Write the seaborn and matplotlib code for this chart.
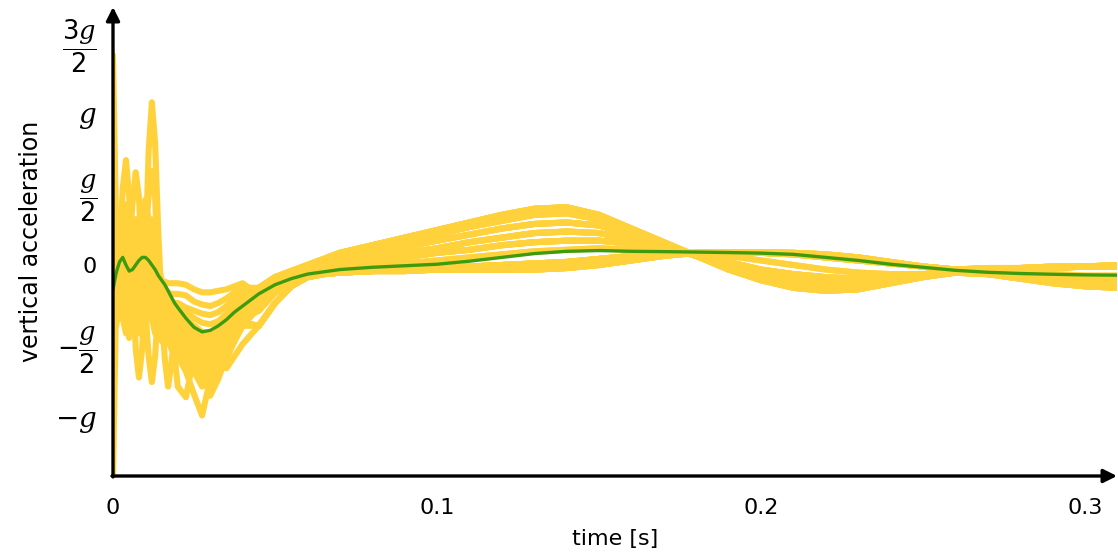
import numpy as np
import pandas as pd
import matplotlib
matplotlib.use("Agg")
import matplotlib.pyplot as plt
import seaborn as sns

# ---------------- data (values in units of g) ----------------
time_s = [0.000, 0.001, 0.002, 0.003, 0.004, 0.005, 0.006, 0.007, 0.008, 0.009,
          0.010, 0.011, 0.012, 0.013, 0.014, 0.015, 0.016, 0.017, 0.018, 0.019,
          0.020, 0.0225, 0.025, 0.0275, 0.030, 0.0325, 0.035, 0.0375, 0.040,
          0.045, 0.050, 0.055, 0.060, 0.065, 0.070, 0.080, 0.090, 0.100, 0.110,
          0.120, 0.130, 0.140, 0.150, 0.160, 0.170, 0.180, 0.190, 0.200, 0.210,
          0.220, 0.230, 0.240, 0.250, 0.260, 0.270, 0.280, 0.290, 0.300, 0.310]

# early (impact) part of each run: t = 0 ... 0.040
early_1 = [1.38, 0.2, -0.15, 0.05, 0.25, 0.1, -0.15, -0.05, 0.15, 0.1, 0.05, 0.75, 1.07, 0.8, 0.2, -0.25, -0.28, -0.22, -0.25, -0.3, -0.33, -0.4, -0.47, -0.52, -0.5, -0.45, -0.38, -0.3, -0.24]
early_2 = [-1.39, -0.2, 0.1, 0.2, 0.0, -0.48, -0.2, 0.1, 0.25, 0.15, -0.1, -0.3, -0.35, -0.2, -0.15, -0.2, -0.3, -0.4, -0.45, -0.5, -0.55, -0.62, -0.7, -0.76, -0.72, -0.62, -0.5, -0.4, -0.32]
early_3 = [0.3, 0.2, 0.1, 0.5, 0.69, 0.45, -0.05, 0.1, 0.25, 0.15, 0.0, -0.15, -0.2, -0.15, -0.1, -0.12, -0.18, -0.25, -0.3, -0.33, -0.36, -0.4, -0.45, -0.5, -0.52, -0.48, -0.4, -0.33, -0.27]
early_4 = [0.1, 0.15, 0.05, -0.1, -0.05, 0.1, 0.4, 0.61, 0.45, 0.0, -0.2, -0.3, -0.2, -0.1, -0.15, -0.25, -0.35, -0.4, -0.42, -0.45, -0.5, -0.56, -0.62, -0.66, -0.63, -0.55, -0.46, -0.37, -0.3]
early_5 = [0.2, 0.1, -0.1, -0.25, -0.1, 0.1, 0.0, -0.55, -0.74, -0.55, -0.1, 0.15, 0.2, 0.1, -0.05, -0.2, -0.3, -0.35, -0.38, -0.4, -0.42, -0.45, -0.5, -0.55, -0.58, -0.56, -0.5, -0.42, -0.35]
early_6 = [0.0, 0.1, 0.2, 0.1, -0.05, -0.1, 0.05, 0.2, 0.15, 0.0, 0.2, 0.45, 0.62, 0.45, -0.1, -0.3, -0.62, -0.8, -0.65, -0.45, -0.48, -0.55, -0.65, -0.72, -0.7, -0.6, -0.48, -0.38, -0.3]
early_7 = [0.05, 0.2, 0.3, 0.2, 0.05, -0.05, 0.0, 0.1, 0.05, -0.1, -0.3, -0.6, -0.77, -0.6, -0.25, -0.15, -0.2, -0.3, -0.45, -0.6, -0.8, -0.87, -0.6, -0.55, -0.62, -0.58, -0.5, -0.4, -0.32]
early_8 = [-0.2, -0.1, 0.1, 0.3, 0.15, -0.1, -0.2, -0.15, 0.0, 0.3, 0.43, 0.3, -0.1, -0.3, -0.35, -0.3, -0.35, -0.45, -0.5, -0.55, -0.6, -0.7, -0.85, -0.99, -0.75, -0.62, -0.5, -0.4, -0.32]
early_9 = [0.25, 0.3, 0.2, 0.0, -0.15, -0.05, 0.1, 0.2, 0.1, -0.05, -0.15, -0.1, 0.0, -0.05, -0.15, -0.2, -0.25, -0.3, -0.35, -0.4, -0.45, -0.55, -0.65, -0.7, -0.86, -0.75, -0.6, -0.48, -0.38]
early_10 = [-0.3, -0.15, 0.0, 0.25, 0.4, 0.25, -0.1, -0.2, -0.1, 0.05, 0.1, 0.0, -0.15, -0.2, -0.15, -0.1, -0.15, -0.25, -0.35, -0.45, -0.5, -0.55, -0.6, -0.62, -0.6, -0.64, -0.68, -0.6, -0.52]
early_11 = [0.15, 0.0, -0.2, -0.1, 0.1, 0.2, 0.1, -0.1, -0.2, -0.1, 0.1, 0.25, 0.3, 0.15, 0.0, -0.1, -0.15, -0.18, -0.19, -0.19, -0.19, -0.2, -0.24, -0.26, -0.27, -0.25, -0.22, -0.18, -0.15]
early_12 = [-0.1, 0.0, 0.15, 0.25, 0.2, 0.05, -0.1, -0.2, -0.25, -0.15, 0.0, 0.1, 0.05, -0.05, -0.1, -0.11, -0.11, -0.12, -0.12, -0.12, -0.12, -0.13, -0.16, -0.18, -0.18, -0.17, -0.16, -0.14, -0.12]
early_13 = [0.0, -0.1, -0.25, -0.15, 0.0, 0.15, 0.25, 0.3, 0.2, 0.1, 0.0, -0.1, -0.15, -0.1, -0.05, -0.1, -0.2, -0.3, -0.4, -0.48, -0.55, -0.62, -0.7, -0.8, -0.72, -0.62, -0.55, -0.5, -0.38]
early_14 = [0.1, 0.25, 0.3, 0.15, -0.1, -0.3, -0.2, 0.0, 0.15, 0.3, 0.2, 0.0, -0.2, -0.3, -0.25, -0.2, -0.25, -0.32, -0.38, -0.42, -0.45, -0.5, -0.55, -0.6, -0.62, -0.6, -0.52, -0.43, -0.35]
early_15 = [-0.05, 0.05, 0.0, -0.15, -0.3, -0.2, 0.0, 0.15, 0.3, 0.2, 0.05, -0.05, -0.1, -0.2, -0.3, -0.35, -0.4, -0.42, -0.45, -0.48, -0.5, -0.55, -0.6, -0.64, -0.66, -0.68, -0.62, -0.5, -0.4]
early_16 = [0.2, 0.05, 0.1, 0.2, 0.1, 0.0, -0.1, 0.0, 0.1, 0.0, -0.1, -0.05, 0.05, 0.0, -0.1, -0.15, -0.2, -0.22, -0.24, -0.25, -0.25, -0.28, -0.3, -0.32, -0.33, -0.31, -0.27, -0.22, -0.18]
early_17 = [0.5, 0.3, 0.0, -0.2, -0.35, -0.2, 0.1, 0.3, 0.2, -0.05, -0.25, -0.35, -0.3, -0.15, -0.2, -0.3, -0.4, -0.45, -0.5, -0.52, -0.55, -0.6, -0.65, -0.7, -0.68, -0.6, -0.5, -0.42, -0.35]
early_18 = [-0.5, -0.3, -0.1, 0.2, 0.3, 0.15, -0.05, -0.25, -0.35, -0.2, 0.05, 0.25, 0.2, 0.0, -0.2, -0.3, -0.32, -0.35, -0.38, -0.4, -0.43, -0.48, -0.53, -0.56, -0.55, -0.5, -0.43, -0.35, -0.28]
early_19 = [0.05, -0.05, -0.2, -0.35, -0.45, -0.3, -0.1, 0.05, 0.15, 0.25, 0.15, -0.05, -0.25, -0.4, -0.35, -0.28, -0.3, -0.35, -0.4, -0.45, -0.48, -0.52, -0.58, -0.62, -0.6, -0.55, -0.47, -0.39, -0.32]
early_20 = [0.3, 0.1, -0.05, 0.05, 0.2, 0.25, 0.1, -0.1, -0.3, -0.45, -0.3, -0.1, 0.1, 0.05, -0.1, -0.2, -0.25, -0.28, -0.3, -0.33, -0.36, -0.42, -0.48, -0.53, -0.54, -0.52, -0.46, -0.38, -0.3]
early_21 = [-0.15, 0.05, 0.25, 0.15, -0.1, -0.35, -0.4, -0.2, 0.05, 0.1, -0.05, -0.2, -0.35, -0.45, -0.4, -0.35, -0.38, -0.42, -0.46, -0.5, -0.52, -0.56, -0.6, -0.72, -0.82, -0.7, -0.55, -0.45, -0.38]
early_22 = [0.4, 0.25, 0.05, -0.1, 0.0, 0.15, 0.2, 0.05, -0.15, -0.3, -0.25, -0.05, 0.1, 0.15, 0.0, -0.15, -0.22, -0.25, -0.28, -0.3, -0.32, -0.36, -0.4, -0.44, -0.45, -0.42, -0.36, -0.3, -0.24]
early_23 = [-0.1, -0.25, -0.15, 0.05, 0.15, 0.05, -0.15, -0.3, -0.2, 0.0, 0.15, 0.1, -0.1, -0.3, -0.45, -0.5, -0.48, -0.5, -0.55, -0.6, -0.62, -0.66, -0.7, -0.75, -0.8, -0.72, -0.6, -0.5, -0.4]
early_24 = [0.15, 0.3, 0.2, 0.0, -0.2, -0.1, 0.1, 0.25, 0.1, -0.15, -0.3, -0.2, 0.0, 0.1, -0.05, -0.2, -0.28, -0.32, -0.35, -0.38, -0.4, -0.44, -0.48, -0.5, -0.5, -0.46, -0.4, -0.33, -0.27]
early_25 = [0.1, 0.3, 0.32, 0.2, 0.05, -0.1, -0.05, 0.15, 0.3, 0.28, 0.1, -0.1, -0.25, -0.2, -0.1, -0.15, -0.22, -0.28, -0.33, -0.38, -0.42, -0.47, -0.52, -0.57, -0.58, -0.54, -0.47, -0.39, -0.31]
early_26 = [-0.25, -0.35, -0.3, -0.1, 0.1, 0.2, 0.15, 0.0, -0.2, -0.35, -0.4, -0.3, -0.15, -0.15, -0.25, -0.35, -0.4, -0.43, -0.47, -0.5, -0.53, -0.58, -0.63, -0.65, -0.64, -0.58, -0.5, -0.42, -0.35]
early_27 = [0.25, 0.1, 0.0, 0.1, 0.25, 0.3, 0.2, 0.0, -0.15, -0.05, 0.15, 0.3, 0.25, 0.05, -0.15, -0.25, -0.3, -0.33, -0.35, -0.36, -0.38, -0.41, -0.45, -0.48, -0.48, -0.45, -0.39, -0.32, -0.26]
early_28 = [-0.35, -0.4, -0.25, -0.05, 0.05, -0.05, -0.25, -0.4, -0.45, -0.3, -0.1, 0.0, -0.05, -0.2, -0.3, -0.32, -0.3, -0.32, -0.36, -0.4, -0.45, -0.5, -0.56, -0.6, -0.58, -0.52, -0.45, -0.38, -0.32]
early_29 = [0.0, 0.15, 0.25, 0.25, 0.1, -0.1, -0.25, -0.3, -0.15, 0.05, 0.2, 0.2, 0.05, -0.15, -0.3, -0.4, -0.45, -0.48, -0.5, -0.53, -0.56, -0.6, -0.64, -0.68, -0.7, -0.66, -0.58, -0.48, -0.38]
early_30 = [0.35, 0.2, 0.1, 0.0, -0.1, -0.15, -0.05, 0.1, 0.2, 0.15, 0.0, -0.15, -0.25, -0.25, -0.2, -0.2, -0.22, -0.23, -0.24, -0.26, -0.28, -0.31, -0.35, -0.38, -0.39, -0.37, -0.32, -0.26, -0.21]
early_31 = [-0.4, -0.2, 0.0, 0.05, -0.05, -0.2, -0.3, -0.25, -0.1, 0.05, 0.1, 0.05, -0.1, -0.25, -0.35, -0.4, -0.38, -0.36, -0.38, -0.42, -0.46, -0.52, -0.58, -0.62, -0.6, -0.56, -0.5, -0.42, -0.34]
early_32 = [0.2, 0.28, 0.15, -0.05, -0.2, -0.25, -0.15, 0.05, 0.2, 0.3, 0.25, 0.1, -0.05, -0.1, -0.15, -0.2, -0.24, -0.27, -0.3, -0.32, -0.34, -0.38, -0.43, -0.46, -0.47, -0.44, -0.38, -0.31, -0.25]

# late (rebound) part of each run: t = 0.045 ... 0.310
late_a = [-0.15, -0.08, -0.04, 0.00, 0.04, 0.08, 0.13, 0.18, 0.23, 0.28, 0.33, 0.37, 0.38, 0.33, 0.24, 0.15, 0.06, -0.03, -0.10, -0.15, -0.17, -0.16, -0.12, -0.08, -0.05, -0.06, -0.09, -0.12, -0.14, -0.15]
late_b = [-0.20, -0.12, -0.06, -0.02, 0.02, 0.06, 0.11, 0.16, 0.20, 0.25, 0.29, 0.33, 0.34, 0.30, 0.22, 0.14, 0.06, -0.02, -0.08, -0.13, -0.15, -0.14, -0.11, -0.07, -0.05, -0.06, -0.08, -0.11, -0.13, -0.14]
late_c = [-0.25, -0.15, -0.08, -0.04, 0.00, 0.03, 0.08, 0.12, 0.16, 0.20, 0.24, 0.27, 0.28, 0.26, 0.20, 0.13, 0.06, -0.01, -0.07, -0.11, -0.13, -0.12, -0.10, -0.07, -0.05, -0.05, -0.07, -0.10, -0.12, -0.13]
late_d = [-0.22, -0.14, -0.08, -0.05, -0.02, 0.01, 0.05, 0.08, 0.11, 0.15, 0.18, 0.21, 0.22, 0.21, 0.17, 0.12, 0.06, 0.00, -0.05, -0.09, -0.11, -0.11, -0.09, -0.06, -0.05, -0.05, -0.07, -0.09, -0.10, -0.11]
late_e = [-0.30, -0.18, -0.11, -0.07, -0.04, -0.01, 0.02, 0.05, 0.08, 0.10, 0.13, 0.15, 0.16, 0.16, 0.14, 0.11, 0.07, 0.02, -0.03, -0.06, -0.08, -0.09, -0.08, -0.06, -0.05, -0.05, -0.06, -0.08, -0.09, -0.10]
late_f = [-0.20, -0.12, -0.08, -0.06, -0.04, -0.03, -0.01, 0.01, 0.03, 0.05, 0.07, 0.09, 0.10, 0.11, 0.10, 0.09, 0.08, 0.06, 0.03, 0.00, -0.03, -0.05, -0.06, -0.06, -0.05, -0.05, -0.05, -0.06, -0.07, -0.07]
late_g = [-0.40, -0.25, -0.14, -0.08, -0.06, -0.05, -0.04, -0.03, -0.02, -0.01, 0.00, 0.01, 0.02, 0.04, 0.06, 0.07, 0.08, 0.085, 0.08, 0.07, 0.05, 0.03, 0.01, -0.01, -0.03, -0.03, -0.02, -0.02, -0.01, -0.01]
late_h = [-0.28, -0.18, -0.12, -0.08, -0.06, -0.05, -0.04, -0.04, -0.03, -0.03, -0.03, -0.03, -0.02, 0.00, 0.03, 0.06, 0.08, 0.085, 0.085, 0.08, 0.07, 0.05, 0.02, -0.01, -0.03, -0.02, -0.02, -0.01, -0.01, 0.00]

mean_accel = [-0.16, -0.05, 0.02, 0.05, 0.0, -0.04, -0.03, 0.0, 0.03, 0.05,
              0.05, 0.03, 0.0, -0.03, -0.07, -0.1, -0.13, -0.17, -0.21, -0.25,
              -0.28, -0.35, -0.41, -0.44, -0.43, -0.40, -0.36, -0.31, -0.27,
              -0.19, -0.13, -0.09, -0.06, -0.045, -0.03, -0.015, -0.005, 0.005, 0.025,
              0.05, 0.075, 0.09, 0.095, 0.09, 0.088, 0.085, 0.082, 0.078, 0.07,
              0.05, 0.03, 0.005, -0.015, -0.035, -0.048, -0.056, -0.061, -0.065, -0.067]

runs = [early_1 + late_a, early_2 + late_e, early_3 + late_c, early_4 + late_c,
        early_5 + late_e, early_6 + late_h, early_7 + late_h, early_8 + late_d,
        early_9 + late_g, early_10 + late_g, early_11 + late_a, early_12 + late_b,
        early_13 + late_g, early_14 + late_f, early_15 + late_h, early_16 + late_b,
        early_17 + late_e, early_18 + late_c, early_19 + late_h, early_20 + late_d,
        early_21 + late_g, early_22 + late_a, early_23 + late_g, early_24 + late_d,
        early_25 + late_c, early_26 + late_e, early_27 + late_b, early_28 + late_h,
        early_29 + late_g, early_30 + late_a, early_31 + late_f, early_32 + late_d]

ytick_vals = [-1, -0.5, 0, 0.5, 1, 1.5]
ytick_labels = [r'$-g$', r'$-\dfrac{g}{2}$', '0', r'$\dfrac{g}{2}$', r'$g$', r'$\dfrac{3g}{2}$']
xtick_vals = [0, 0.1, 0.2, 0.3]
xtick_labels = ['0', '0.1', '0.2', '0.3']

# ---------------- plotting ----------------
sns.set_theme(style="white")
plt.rcParams['font.family'] = ['DejaVu Sans']
plt.rcParams['mathtext.fontset'] = 'custom'
plt.rcParams['mathtext.rm'] = 'DejaVu Sans'
plt.rcParams['mathtext.it'] = 'DejaVu Serif:italic'
plt.rcParams['mathtext.bf'] = 'DejaVu Sans:bold'
plt.rcParams['text.color'] = 'black'
plt.rcParams['axes.labelcolor'] = 'black'
plt.rcParams['xtick.color'] = 'black'
plt.rcParams['ytick.color'] = 'black'

df = pd.DataFrame({
    'time': np.tile(time_s, len(runs)),
    'acc': np.concatenate([np.asarray(r, float) for r in runs]),
    'run': np.repeat(np.arange(len(runs)), len(time_s)),
})
df_mean = pd.DataFrame({'time': time_s, 'acc': mean_accel})

fig = plt.figure(figsize=(11.18, 5.57), dpi=100)
ax = fig.add_axes([113 / 1118, 1 - 476 / 557, (1117 - 113) / 1118, (476 - 7) / 557])

yellow = '#FFD23C'
green = '#3F9B0E'
sns.lineplot(data=df, x='time', y='acc', units='run', estimator=None, color=yellow,
             lw=4.4, ax=ax, legend=False, solid_capstyle='round', solid_joinstyle='round',
             zorder=2)
sns.lineplot(data=df_mean, x='time', y='acc', color=green, lw=2.4, ax=ax,
             legend=False, zorder=3, solid_joinstyle='round')

ax.set_xlim(0, (1117 - 113) / 3240)
ax.set_ylim(-(476 - 265) / 152, (265 - 7) / 152)

for s in ax.spines.values():
    s.set_visible(False)

arrow_kw = dict(arrowstyle='-|>', lw=2.4, color='black', mutation_scale=20,
                shrinkA=0, shrinkB=0)
ax.annotate('', xy=(1.0, 0.0), xytext=(-0.001, 0.0), xycoords='axes fraction',
            arrowprops=arrow_kw, zorder=5, annotation_clip=False)
ax.annotate('', xy=(0.0, 1.0), xytext=(0.0, -0.002), xycoords='axes fraction',
            arrowprops=arrow_kw, zorder=5, annotation_clip=False)

ax.set_xticks(xtick_vals)
ax.set_xticklabels(xtick_labels)
ax.set_yticks(ytick_vals)
ax.set_yticklabels(ytick_labels)
ax.tick_params(axis='both', which='major', direction='inout', length=7, width=0.8,
               color='#999999', labelsize=16, labelcolor='black')
ax.tick_params(axis='x', pad=12)
ax.tick_params(axis='y', pad=8)
for lab in ax.get_yticklabels():
    txt = lab.get_text()
    if 'frac' in txt:
        lab.set_fontsize(18.5)
    elif 'g' in txt:
        lab.set_fontsize(20)
ax.grid(False)

ax.set_xlabel('time [s]', fontsize=16, labelpad=8, color='black')
ax.set_ylabel('vertical acceleration', fontsize=17, color='black')
ax.yaxis.set_label_coords(-0.07, 0.5)

fig.savefig('out.png', dpi=100)
